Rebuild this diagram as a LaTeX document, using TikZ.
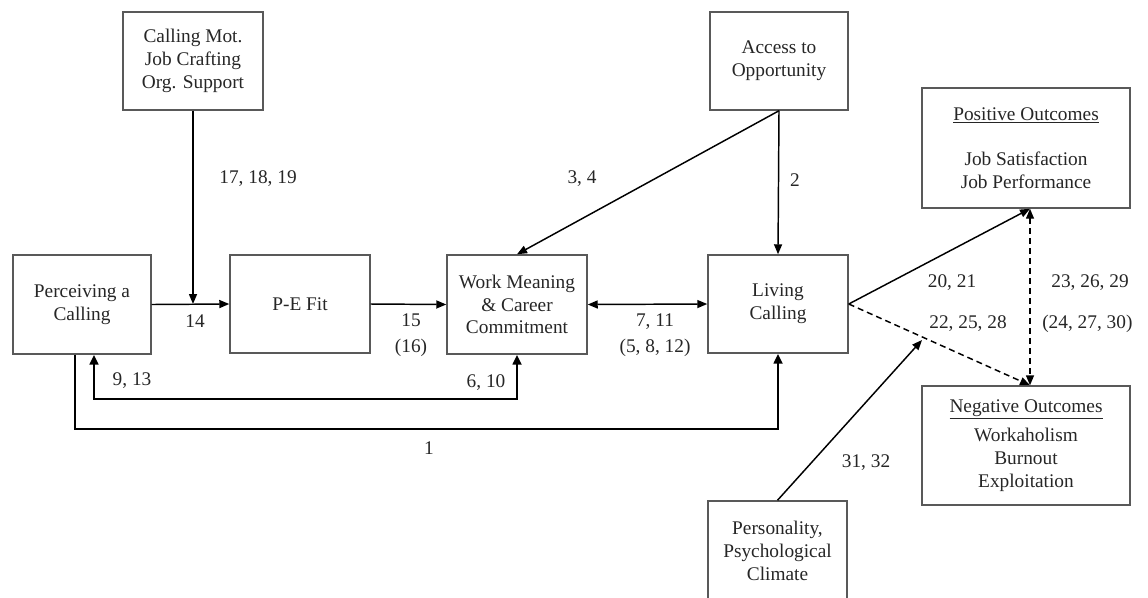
\documentclass[tikz,border=0pt]{standalone}
\usepackage{fontspec}
\setmainfont{Liberation Serif}
\usetikzlibrary{arrows.meta,calc}

\tikzset{
  box/.style={draw=black!65, line width=1.1pt, align=center, text=black!85,
    font=\fontsize{14.5}{17}\selectfont, inner sep=2pt},
  lab/.style={text=black!85, font=\fontsize{14.5}{17}\selectfont, inner sep=0pt, align=center},
  conn/.style={line width=1.1pt, -{Triangle[length=7.5pt,width=6pt]}},
  dconn/.style={conn, dash pattern=on 4.5pt off 3pt},
  loopline/.style={line width=2.2pt, -{Triangle[length=7.5pt,width=6.5pt]}},
}

\begin{document}
\begin{tikzpicture}[x=0.75pt,y=-0.75pt]
\useasboundingbox (0,0) rectangle (1148,597);

% boxes
\node[box, minimum width=105pt, minimum height=73.5pt] (motv) at (193,61)
  {Calling Mot.\\Job Crafting\\Org. Support};
\node[box, minimum width=103.5pt, minimum height=73.5pt] (access) at (779,61)
  {Access to\\Opportunity};
\node[box, minimum width=156pt, minimum height=90pt] (posout) at (1026,148)
  {\underline{Positive Outcomes}\\[17pt]Job Satisfaction\\Job Performance};
\node[box, minimum width=103.5pt, minimum height=74.25pt] (perc) at (82,304.5)
  {Perceiving a\\Calling};
\node[box, minimum width=105pt, minimum height=73.5pt] (pefit) at (300,304) {P-E Fit};
\node[box, minimum width=105pt, minimum height=74.25pt] (wmcc) at (517,304.5)
  {Work Meaning\\\& Career\\Commitment};
\node[box, minimum width=105pt, minimum height=73.5pt] (living) at (778,304)
  {Living\\Calling};
\node[box, minimum width=156pt, minimum height=89.25pt] (negout) at (1026,445.5)
  {\underline{Negative Outcomes}\\[5pt]Workaholism\\Burnout\\Exploitation};
\node[box, minimum width=104.25pt, minimum height=75pt] (person) at (777.5,551)
  {Personality,\\Psychological\\Climate};

% helper points
\coordinate (join) at (193,304);
\coordinate (loopa) at (94,399);
\coordinate (loopb) at (75,429);
\coordinate (postip) at ($(posout.south)+(4,0)$);
\coordinate (negtip) at ($(negout.north)+(4,0)$);
\coordinate (climtip) at (922,340);

% connectors
\draw[conn] (motv.south) -- (join);
\draw[conn] (perc.east) -- (pefit.west);
\draw[conn] (pefit.east) -- (wmcc.west);
\draw[conn, {Triangle[length=7.5pt,width=6pt]}-{Triangle[length=7.5pt,width=6pt]}] (wmcc.east) -- (living.west);
\draw[conn] (access.south) -- (living.north);
\draw[conn] (access.south) -- (wmcc.north);
\draw[loopline, {Triangle[length=7.5pt,width=6.5pt]}-{Triangle[length=7.5pt,width=6.5pt]}]
  (perc.south -| loopa) -- (loopa) -- (loopa -| wmcc.south) -- (wmcc.south);
\draw[loopline] (perc.south -| loopb) -- (loopb) -- (loopb -| living.south) -- (living.south);
\draw[conn] (living.east) -- (postip);
\draw[dconn] (living.east) -- (negtip);
\draw[dconn, {Triangle[length=7.5pt,width=6pt]}-{Triangle[length=7.5pt,width=6pt]}] (postip) -- (negtip);
\draw[conn] (person.north) -- (climtip);

% path labels
\node[lab] (l171819) at (258,179) {17, 18, 19};
\node[lab] (l14) at (195,321) {14};
\node[lab] (l1516) at (411,335) {15\\[2.5pt](16)};
\node[lab] (l711) at (655,335) {7, 11\\[2.5pt](5, 8, 12)};
\node[lab] (l913) at (132,381) {9, 13};
\node[lab] (l610) at (486,383) {6, 10};
\node[lab] (l1) at (429,448) {1};
\node[lab] (l34) at (582,179) {3, 4};
\node[lab] (l2) at (795,180) {2};
\node[lab] (l2021) at (952,283) {20, 21};
\node[lab] (l222528) at (968,324) {22, 25, 28};
\node[lab] (l232629) at (1090,283) {23, 26, 29};
\node[lab, anchor=west] (l242730) at (1042,324) {(24, 27, 30)};
\node[lab] (l3132) at (866,463) {31, 32};
\end{tikzpicture}
\end{document}
